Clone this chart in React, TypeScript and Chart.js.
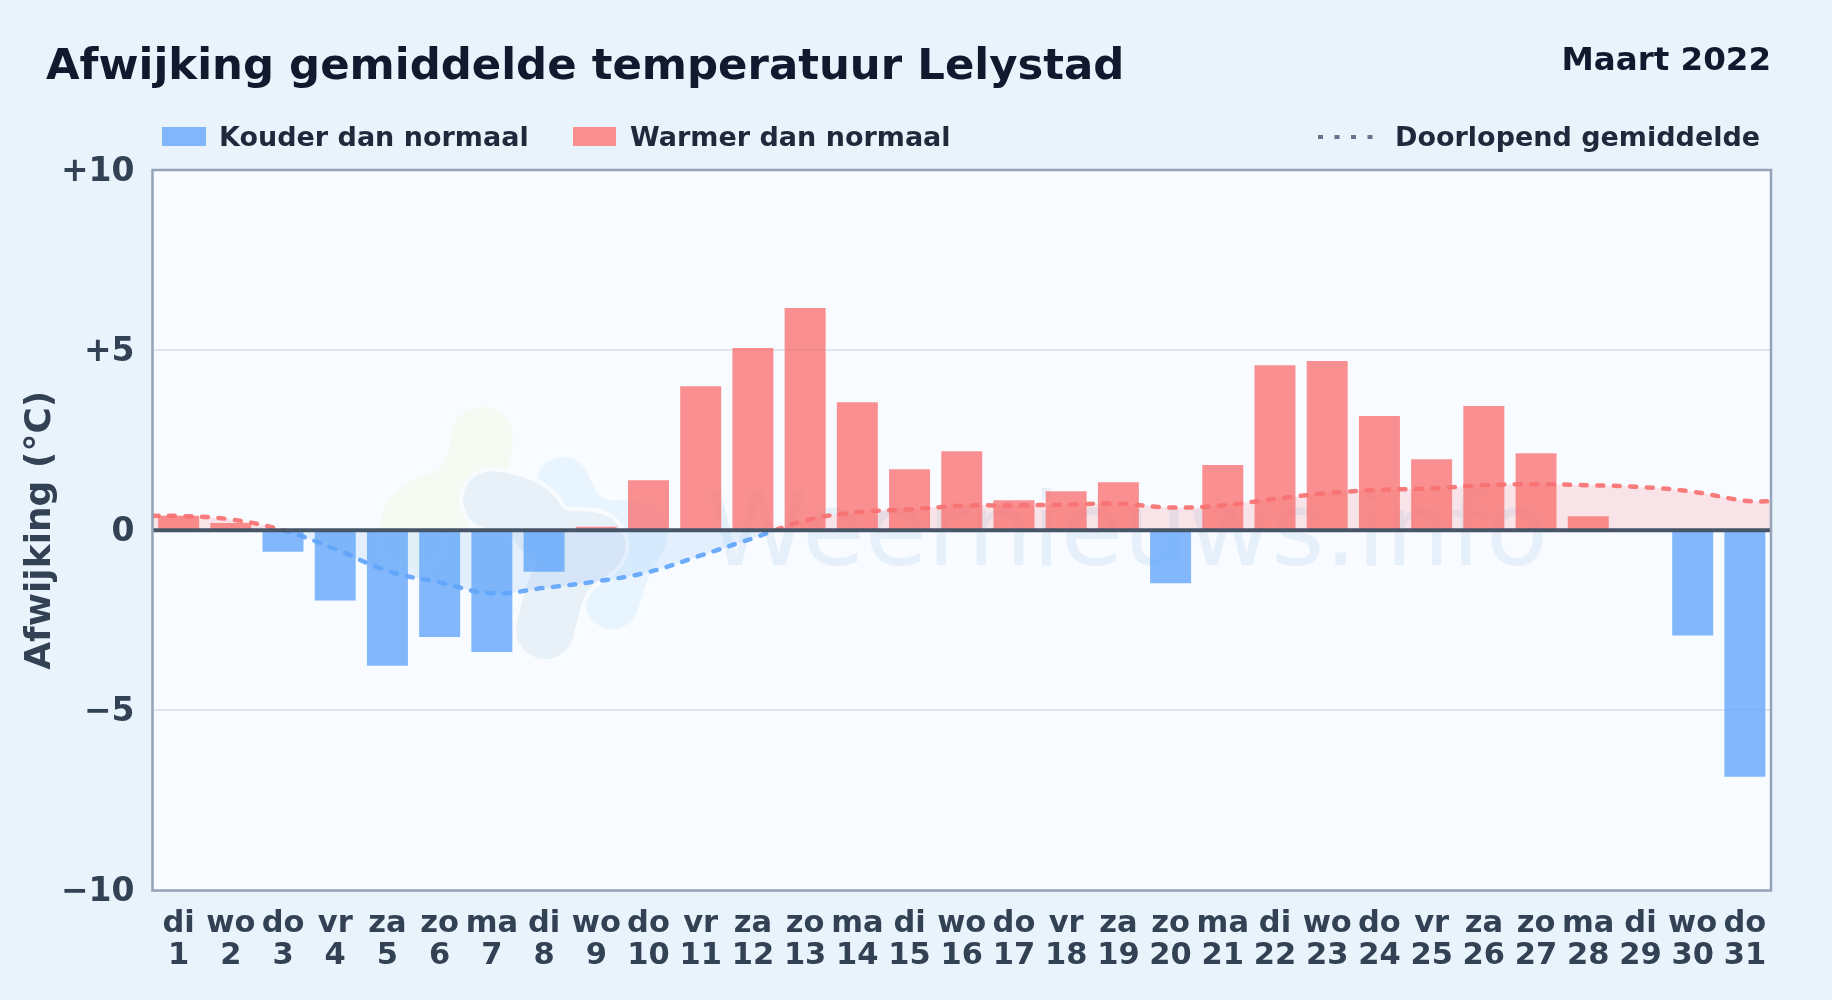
import React, { useEffect, useRef } from "react";
import { Chart, registerables } from "chart.js";

Chart.register(...registerables);

const weekdays = ["di","wo","do","vr","za","zo","ma","di","wo","do","vr","za","zo","ma","di","wo","do","vr","za","zo","ma","di","wo","do","vr","za","zo","ma","di","wo","do"];
const days = ["1","2","3","4","5","6","7","8","9","10","11","12","13","14","15","16","17","18","19","20","21","22","23","24","25","26","27","28","29","30","31"];
const deviation = [0.4,0.2,-0.6,-1.95,-3.76,-2.96,-3.38,-1.15,0.1,1.39,4.0,5.06,6.17,3.55,1.69,2.19,0.83,1.08,1.33,-1.47,1.81,4.58,4.7,3.17,1.97,3.45,2.14,0.39,null,-2.92,-6.84];
const runningDays = [0.5,1,2,3,4,5,6,7,8,9,10,11,12,13,14,15,16,17,18,19,20,21,22,23,24,25,26,27,28,29,30,31,31.5];
const runningMean = [0.4,0.4,0.3,0,-0.52,-1.13,-1.45,-1.75,-1.6,-1.42,-1.16,-0.7,-0.22,0.27,0.5,0.58,0.68,0.69,0.71,0.74,0.63,0.69,0.87,1.03,1.12,1.16,1.25,1.28,1.25,1.2,1.07,0.82,0.8];
const zeroDays = [0.5,31.5];
const zeroValues = [0,0];

const TITLE = "Afwijking gemiddelde temperatuur Lelystad";
const MONTH = "Maart 2022";
const LEGEND = ["Kouder dan normaal","Warmer dan normaal","Doorlopend gemiddelde"];
const FONT = "'DejaVu Sans', sans-serif";
const INK = "#334155";

const watermark = {
  id: "watermark",
  beforeDatasetsDraw(chart: any) {
    const c = chart.ctx;
    const blade = (pts: number[][], w: number, col: string) => {
      c.lineCap = "round"; c.lineJoin = "round";
      const path = () => {
        c.beginPath(); c.moveTo(pts[0][0], pts[0][1]);
        for (let i = 1; i < pts.length - 1; i++) {
          const mx = (pts[i][0] + pts[i + 1][0]) / 2, my = (pts[i][1] + pts[i + 1][1]) / 2;
          c.quadraticCurveTo(pts[i][0], pts[i][1], mx, my);
        }
        c.lineTo(pts[pts.length - 1][0], pts[pts.length - 1][1]);
      };
      path(); c.strokeStyle = "#f9fcff"; c.lineWidth = w + 8; c.stroke();
      path(); c.strokeStyle = col; c.lineWidth = w; c.stroke();
    };
    c.save();
    blade([[482,438],[478,490],[412,512],[412,538]], 62, "#f5faf3");
    blade([[563,484],[580,530],[650,525],[625,560],[612,602]], 54, "#e9f5fe");
    blade([[492,500],[530,505],[545,540],[610,540],[560,570],[545,630]], 58, "#e8f0f8");
    c.font = `102px ${FONT}`;
    c.textAlign = "left"; c.textBaseline = "alphabetic";
    c.fillStyle = "rgba(59,130,200,0.09)";
    c.fillText("Weernieuws.info", 707, 565);
    c.restore();
  },
};

const plotFrame = {
  id: "plotFrame",
  beforeDraw(chart: any) {
    const { ctx, chartArea: a } = chart;
    ctx.save(); ctx.fillStyle = "#f8fbff";
    ctx.fillRect(a.left, a.top, a.width, a.height); ctx.restore();
  },
  afterDraw(chart: any) {
    const { ctx, chartArea: a } = chart;
    ctx.save(); ctx.strokeStyle = "#94a3b8"; ctx.lineWidth = 2.5;
    ctx.strokeRect(a.left, a.top, a.width, a.height); ctx.restore();
  },
};

export default function App() {
  const ref = useRef<HTMLCanvasElement>(null);
  useEffect(() => {
    const chart = new Chart(ref.current!, {
      type: "bar",
      data: {
        labels: days.map((d, i) => [weekdays[i], d]),
        datasets: [
          {
            type: "line", label: "zero", xAxisID: "xLine", order: -1,
            data: zeroDays.map((x, i) => ({ x, y: zeroValues[i] })),
            borderColor: "#475569", borderWidth: 4, pointRadius: 0, tension: 0,
          } as any,
          {
            type: "line", label: LEGEND[2], xAxisID: "xLine", order: 0,
            data: runningDays.map((x, i) => ({ x, y: runningMean[i] })),
            borderWidth: 4.5, borderDash: [6, 10.5], borderCapStyle: "round",
            pointRadius: 0, tension: 0.4,
            fill: { target: { value: 0 }, above: "rgba(248,113,113,0.16)", below: "rgba(96,165,250,0.13)" },
            borderColor: (ctx: any) => {
              const { chart: ch } = ctx;
              const a = ch.chartArea, y = ch.scales.y;
              if (!a || !y) return "#f87171";
              const g = ch.ctx.createLinearGradient(0, a.top, 0, a.bottom);
              const s = (y.getPixelForValue(0) - a.top) / a.height;
              const red = "rgba(248,113,113,0.92)", blue = "rgba(96,165,250,0.92)";
              g.addColorStop(0, red); g.addColorStop(s, red);
              g.addColorStop(s, blue); g.addColorStop(1, blue);
              return g;
            },
          } as any,
          {
            type: "bar", label: "Afwijking", order: 1, xAxisID: "x", grouped: false,
            data: deviation,
            backgroundColor: (ctx: any) => ((ctx.raw ?? 0) < 0 ? "rgba(96,165,250,0.78)" : "rgba(248,113,113,0.78)"),
            barPercentage: 0.785, categoryPercentage: 1, borderWidth: 0,
          } as any,
        ],
      },
      options: {
        responsive: false, animation: false,
        layout: { padding: { left: 0, right: 61, top: 170, bottom: 0 } },
        plugins: { legend: { display: false }, title: { display: false }, tooltip: { enabled: false } },
        scales: {
          x: {
            grid: { display: false }, border: { display: false },
            ticks: { color: INK, font: { family: FONT, weight: "bold", size: 30.5, lineHeight: 1.07 }, maxRotation: 0, autoSkip: false, padding: 9 },
            afterFit: (s: any) => { s.height = 109.5; },
          },
          xLine: { type: "linear", min: 0.5, max: 31.5, display: false, offset: false },
          y: {
            min: -10, max: 10,
            grid: { color: "#dfe7ec", lineWidth: 2, drawTicks: false },
            border: { display: false },
            ticks: {
              stepSize: 5, padding: 18, labelOffset: 2, color: INK,
              font: { family: FONT, weight: "bold", size: 33 },
              callback: (v: any) => (v > 0 ? `+${v}` : v < 0 ? `\u2212${-v}` : "0"),
            },
            title: { display: true, text: "Afwijking (\u00b0C)", color: INK, font: { family: FONT, weight: "bold", size: 36 }, padding: { top: 19, bottom: 0 } },
            afterFit: (s: any) => { s.width = 152.5; },
          },
        },
      } as any,
      plugins: [plotFrame, watermark],
    });
    return () => chart.destroy();
  }, []);

  const abs = (s: React.CSSProperties): React.CSSProperties => ({ position: "absolute", whiteSpace: "nowrap", fontFamily: FONT, fontWeight: 700, ...s });
  return (
    <div style={{ position: "fixed", inset: 0, width: 1832, height: 1000, background: "#e9f3fb", overflow: "hidden" }}>
      <canvas ref={ref} width={1832} height={1000} style={{ position: "absolute", left: 0, top: 0, width: 1832, height: 1000 }} />
      <div style={abs({ left: 46, top: 37, fontSize: 43.4, lineHeight: "54px", color: "#0f1a2e" })}>{TITLE}</div>
      <div style={abs({ right: 61, top: 39, fontSize: 32.5, lineHeight: "40px", color: "#0f1a2e" })}>{MONTH}</div>
      <div style={abs({ left: 162, top: 127, width: 44, height: 19, background: "#82b6fb" })} />
      <div style={abs({ left: 219, top: 120, fontSize: 27, lineHeight: "34px", color: "#1e293b" })}>{LEGEND[0]}</div>
      <div style={abs({ left: 573, top: 127, width: 43, height: 19, background: "#fa8f8f" })} />
      <div style={abs({ left: 630, top: 120, fontSize: 27, lineHeight: "34px", color: "#1e293b" })}>{LEGEND[1]}</div>
      <svg style={{ position: "absolute", left: 1316, top: 130 }} width={60} height={14}>
        <line x1={2} y1={7} x2={58} y2={7} stroke="#64748b" strokeWidth={4} strokeDasharray="5 11.5" />
      </svg>
      <div style={abs({ left: 1395, top: 120, fontSize: 27, lineHeight: "34px", color: "#1e293b" })}>{LEGEND[2]}</div>
    </div>
  );
}
